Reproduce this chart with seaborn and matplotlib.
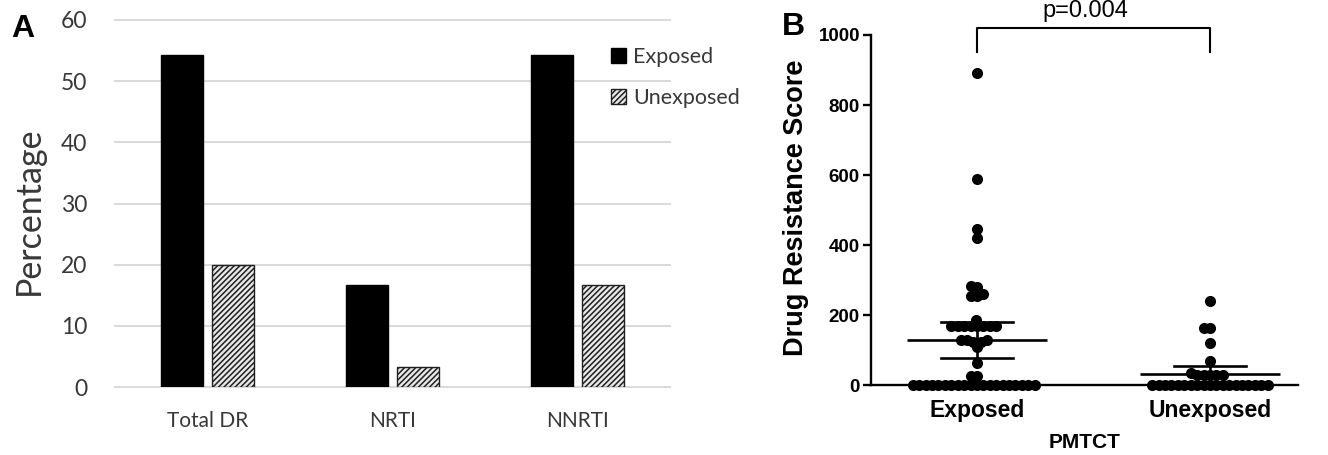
import seaborn as sns
import pandas as pd
import matplotlib.pyplot as plt

# panel A: percentage with drug resistance
categories = ["Total DR", "NRTI", "NNRTI"]
groups = ["Exposed", "Unexposed"]
exposed_pct = [54.2, 16.7, 54.2]
unexposed_pct = [20.0, 3.3, 16.7]

# panel B: individual drug resistance scores
exposed_scores = [890, 589, 445, 420, 284, 280, 261, 255, 255, 185,
                  168, 168, 168, 168, 168, 168, 168, 168,
                  130, 130, 130, 122, 122, 108, 62, 25, 25,
                  0, 0, 0, 0, 0, 0, 0, 0, 0, 0,
                  0, 0, 0, 0, 0, 0, 0, 0, 0, 0]
unexposed_scores = [240, 164, 164, 119, 69, 33, 30, 28, 28, 28, 28,
                    0, 0, 0, 0, 0, 0, 0, 0, 0, 0,
                    0, 0, 0, 0, 0, 0, 0, 0, 0]
p_label = "p=0.004"

W, H = 1328, 455
grey_txt = "#383838"
plt.rcParams["hatch.linewidth"] = 1.1

pct = pd.DataFrame({
    "Category": categories * 2,
    "Group": [groups[0]] * 3 + [groups[1]] * 3,
    "Percentage": exposed_pct + unexposed_pct,
})
scores = pd.DataFrame({
    "PMTCT": [groups[0]] * len(exposed_scores) + [groups[1]] * len(unexposed_scores),
    "Score": exposed_scores + unexposed_scores,
})

fig = plt.figure(figsize=(W / 100, H / 100), dpi=100)

# ---------------- A ----------------
axA = fig.add_axes([115 / W, 1 - 387 / H, 555 / W, 367 / H])
sns.barplot(data=pct, x="Category", y="Percentage", hue="Group",
            order=categories, hue_order=groups,
            palette={"Exposed": "black", "Unexposed": "#e8e8e8"},
            width=0.56, gap=0.19, errorbar=None, legend=False,
            edgecolor="#202020", linewidth=1.0, ax=axA)
for bar in axA.containers[1]:
    bar.set_hatch("//////")
for bar in axA.containers[0]:
    bar.set_edgecolor("black")

axA.set_xlim(-0.5, 2.5)
axA.set_ylim(0, 60)
axA.set_yticks(range(0, 61, 10))
axA.yaxis.grid(True, color="#d9d9d9", linewidth=1.4)
axA.set_axisbelow(True)
for gl in axA.get_ygridlines():
    gl.set_clip_on(False)
for s in axA.spines.values():
    s.set_visible(False)
axA.tick_params(axis="both", length=0, colors=grey_txt)
axA.tick_params(axis="y", pad=20)
axA.tick_params(axis="x", pad=17)
for t in axA.get_yticklabels():
    t.set_fontfamily("Lato")
    t.set_fontsize(16.5)
for t in axA.get_xticklabels():
    t.set_fontfamily("Lato")
    t.set_fontsize(15)
axA.set_xlabel("")
axA.set_ylabel("")
fig.text(29 / W, 1 - 211 / H, "Percentage", rotation=90, ha="center", va="center",
         fontfamily="Lato", fontsize=24.5, color=grey_txt)

axA.legend(handles=[axA.containers[0][0], axA.containers[1][0]], labels=groups,
           loc="upper left", bbox_to_anchor=(0.858, 0.98), frameon=False,
           handlelength=0.7, handleheight=0.7, handletextpad=0.35, labelspacing=1.0,
           prop={"family": "Lato", "size": 15.5}, labelcolor=grey_txt)

# ---------------- B ----------------
axB = fig.add_axes([871 / W, 1 - 385 / H, 427 / W, 350 / H])
sns.swarmplot(data=scores, x="PMTCT", y="Score", order=groups, color="black",
              size=4.4, ax=axB, clip_on=False, zorder=3)
sns.pointplot(data=scores, x="PMTCT", y="Score", order=groups, estimator="mean",
              errorbar=("se", 2), capsize=0.31, color="black", linestyle="none",
              marker="_", markersize=101, markeredgewidth=1.9,
              err_kws={"linewidth": 1.9, "zorder": 4}, zorder=4, ax=axB)

axB.set_xlim(-0.455, 1.378)
axB.set_ylim(0, 1000)
axB.set_yticks(range(0, 1001, 200))
for side in ["top", "right"]:
    axB.spines[side].set_visible(False)
for side in ["left", "bottom"]:
    axB.spines[side].set_linewidth(1.7)
axB.tick_params(axis="y", length=6, width=1.7, pad=2)
axB.tick_params(axis="x", length=4, width=1.2, pad=6)
for t in axB.get_yticklabels():
    t.set_fontfamily("Liberation Sans")
    t.set_fontweight("bold")
    t.set_fontsize(13.5)
for t in axB.get_xticklabels():
    t.set_fontfamily("Liberation Sans")
    t.set_fontweight("bold")
    t.set_fontsize(16.5)
axB.set_xlabel("")
axB.set_ylabel("")
fig.text(796 / W, 1 - 208 / H, "Drug Resistance Score", rotation=90, ha="center",
         va="center", fontfamily="Liberation Sans", fontweight="bold", fontsize=19.5)
fig.text(1085 / W, 1 - 442 / H, "PMTCT", ha="center", va="center",
         fontfamily="Liberation Sans", fontweight="bold", fontsize=15)

# significance bracket
axB.plot([0, 0, 1, 1], [950, 1021, 1021, 950], color="black", lw=1.5, clip_on=False)
fig.text(1085 / W, 1 - 17 / H, p_label, ha="center", va="baseline",
         fontfamily="Liberation Sans", fontsize=17)

# panel letters
fig.text(11 / W, 1 - 37 / H, "A", fontfamily="Liberation Sans", fontweight="bold",
         fontsize=23, va="baseline")
fig.text(782 / W, 1 - 35 / H, "B", fontfamily="Liberation Sans", fontweight="bold",
         fontsize=23, va="baseline")

# lay out the swarm with small dots, then enlarge them
fig.canvas.draw()
for c in axB.collections:
    if "draw" in c.__dict__:
        del c.draw
    c.set_sizes([64])

fig.savefig("out.png", dpi=100)
